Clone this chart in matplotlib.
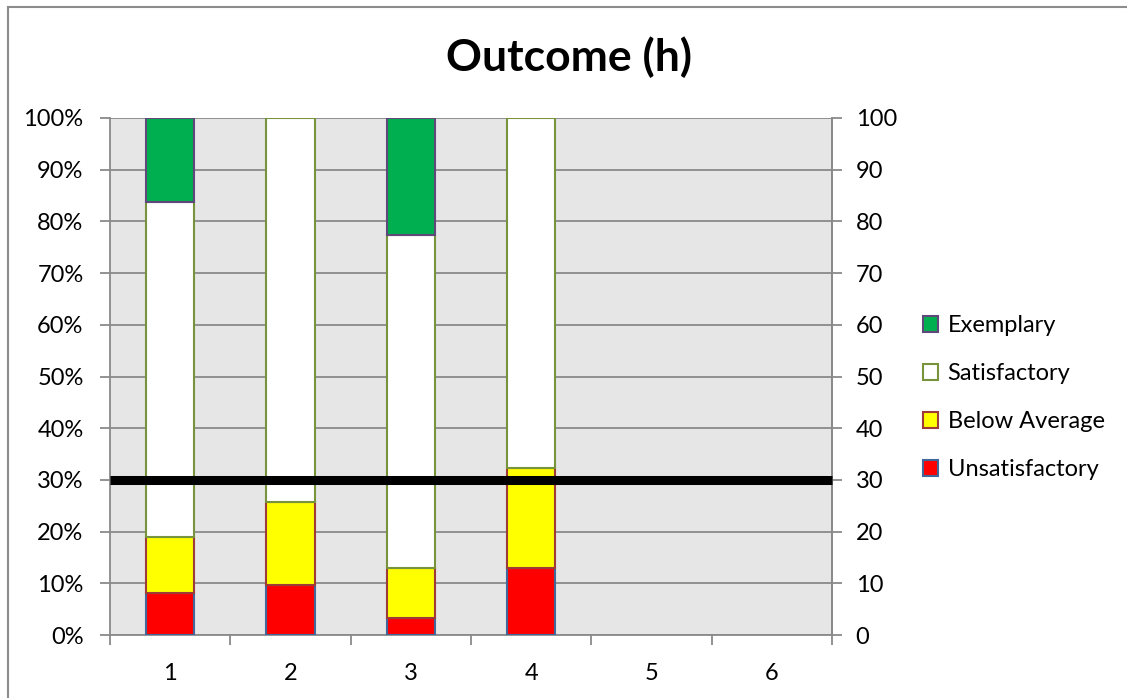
import matplotlib
matplotlib.use("Agg")
import matplotlib.pyplot as plt
from matplotlib.patches import Patch
from matplotlib.lines import Line2D

plt.rcParams['font.family'] = ['Lato', 'DejaVu Sans']

categories = [1, 2, 3, 4, 5, 6]
unsatisfactory = [8.1, 9.7, 3.2, 12.9, 0, 0]
below_average = [10.8, 16.1, 9.7, 19.4, 0, 0]
satisfactory = [64.9, 74.2, 64.5, 67.7, 0, 0]
exemplary = [16.2, 0.0, 22.6, 0.0, 0, 0]
target = 30
pct_ticks = [0, 10, 20, 30, 40, 50, 60, 70, 80, 90, 100]
pct_labels = [f"{v}%" for v in pct_ticks]

W, H = 1127, 698
fig = plt.figure(figsize=(W / 100, H / 100), dpi=100)

# chart frame (left and top edges visible)
fig.add_artist(Line2D([8 / W, 8 / W], [0, 1 - 7 / H], color='#8c8c8c', lw=1.5))
fig.add_artist(Line2D([8 / W, 1], [1 - 7 / H, 1 - 7 / H], color='#8c8c8c', lw=1.5))

ax = fig.add_axes([110 / W, 1 - 635 / H, (832 - 110) / W, (635 - 118) / H])
ax.set_facecolor('#e6e6e6')

fs = 17
grid_c = '#8a8a8a'
width = 0.4
bottom = [0] * len(categories)
series = [
    ('Unsatisfactory', unsatisfactory, '#ff0000', '#42679a'),
    ('Below Average', below_average, '#ffff00', '#9c3b38'),
    ('Satisfactory', satisfactory, '#ffffff', '#77933c'),
    ('Exemplary', exemplary, '#00b050', '#5f497a'),
]
handles = {}
for name, vals, fc, ec in series:
    xs = [c for c, v in zip(categories, vals) if v > 0]
    hs = [v for v in vals if v > 0]
    bs = [b for b, v in zip(bottom, vals) if v > 0]
    ax.bar(xs, hs, width=width, bottom=bs, color=fc,
           edgecolor=ec, linewidth=1.5, zorder=3)
    bottom = [b + v for b, v in zip(bottom, vals)]
    handles[name] = Patch(facecolor=fc, edgecolor=ec, linewidth=1.5)

ax.set_xlim(0.5, 6.5)
ax.set_ylim(0, 100)
ax.set_yticks(pct_ticks)
ax.set_yticklabels(pct_labels)
ax.set_xticks(categories)
ax.set_xticks([c - 0.5 for c in categories] + [6.5], minor=True)
ax.tick_params(axis='x', which='major', length=0, pad=20, labelsize=fs)
ax.tick_params(axis='x', which='minor', length=7, width=1.3, color=grid_c, direction='out')
ax.tick_params(axis='y', length=7, width=1.3, color=grid_c, direction='out', pad=12, labelsize=fs)
ax.yaxis.grid(True, color=grid_c, lw=1.3, zorder=1)
ax.set_axisbelow(True)
ax.spines['top'].set_visible(False)
for s in ['left', 'bottom', 'right']:
    ax.spines[s].set_color(grid_c)
    ax.spines[s].set_linewidth(1.3)

ax2 = ax.twinx()
ax2.set_ylim(0, 100)
ax2.set_yticks(pct_ticks)
ax2.tick_params(axis='y', length=7, width=1.3, color=grid_c, direction='out', pad=10, labelsize=fs)
for s in ['top', 'left', 'bottom']:
    ax2.spines[s].set_visible(False)
ax2.spines['right'].set_color(grid_c)
ax2.spines['right'].set_linewidth(1.3)
ax2.plot([0.5, 6.5], [target, target], color='black', lw=6.5, solid_capstyle='butt',
         zorder=5, clip_on=False)

fig.text(569 / W, 1 - 57 / H, 'Outcome (h)', ha='center', va='center',
         fontsize=32, fontweight='bold')

order = ['Exemplary', 'Satisfactory', 'Below Average', 'Unsatisfactory']
fig.legend([handles[n] for n in order], order, loc='upper left',
           bbox_to_anchor=(914 / W, 1 - 306 / H), frameon=False,
           fontsize=fs, handlelength=0.62, handleheight=0.62,
           handletextpad=0.4, labelspacing=1.14, borderaxespad=0)

fig.savefig('out.png', dpi=100)
